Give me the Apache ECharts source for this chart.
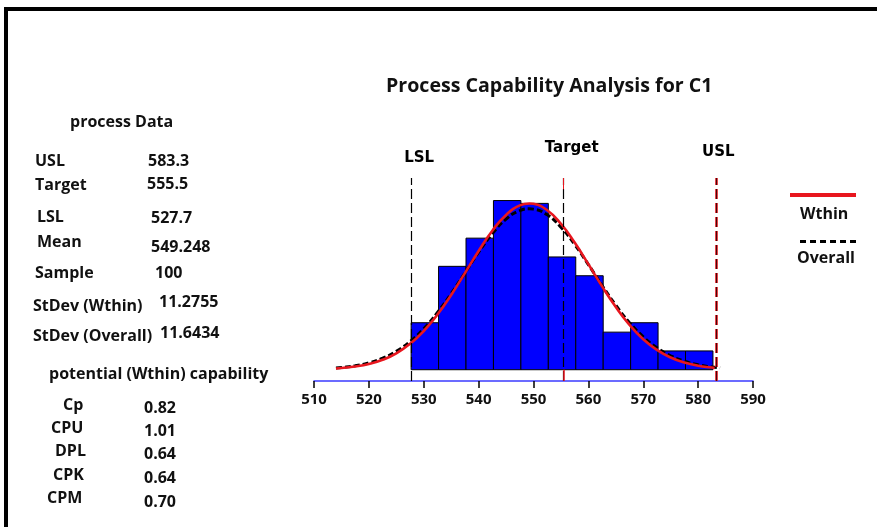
<!DOCTYPE html>
<html>
<head>
<meta charset="utf-8">
<script src="https://cdn.jsdelivr.net/npm/echarts@6/dist/echarts.min.js"></script>
<style>
  html, body { margin: 0; padding: 0; background: #fff; }
  #chart { width: 877px; height: 527px; }
</style>
</head>
<body>
<div id="chart"></div>
<script>
  // histogram bins (C1 values, bin width 5)
  const binStarts = [527.7, 532.7, 537.7, 542.7, 547.7, 552.7, 557.7, 562.7, 567.7, 572.7, 577.7];
  const binEnds = [532.7, 537.7, 542.7, 547.7, 552.7, 557.7, 562.7, 567.7, 572.7, 577.7, 582.7];
  const binCounts = [5, 11, 14, 18, 17.7, 12, 10, 4, 5, 2, 2];

  // fitted curves
  const withinX = [514, 515, 517.5, 520, 522.5, 525, 527.7, 530, 532.5, 535, 537.5, 540, 542.5, 545, 547.5, 549.25,
    550, 552.5, 555, 557.5, 560, 562.5, 565, 567.5, 570, 572.5, 575, 577.5, 580, 582.5, 583];
  const withinY = [0.13, 0.18, 0.34, 0.61, 1.06, 1.75, 2.85, 4.12, 5.87, 7.96, 10.28, 12.64, 14.79, 16.47, 17.48, 17.69,
    17.65, 16.97, 15.53, 13.53, 11.23, 8.87, 6.67, 4.77, 3.25, 2.11, 1.30, 0.77, 0.43, 0.23, 0.20];
  const overallX = [514, 515, 517.5, 520, 522.5, 525, 527.7, 530, 532.5, 535, 537.5, 540, 542.5, 545, 547.5, 549.25,
    550, 552.5, 555, 557.5, 560, 562.5, 565, 567.5, 570, 572.5, 575, 577.5, 580, 582.5, 584];
  const overallY = [0.18, 0.23, 0.42, 0.73, 1.22, 1.96, 3.09, 4.37, 6.09, 8.10, 10.30, 12.50, 14.48, 16.03, 16.94, 17.13,
    17.09, 16.48, 15.16, 13.33, 11.19, 8.96, 6.86, 5.01, 3.50, 2.33, 1.48, 0.90, 0.52, 0.29, 0.20];

  // spec limits
  const limitNames = ['LSL', 'Target', 'USL'];
  const limitValues = [527.7, 555.5, 583.3];

  // side panel text
  const processLabels = ['USL', 'Target', 'LSL', 'Mean', 'Sample', 'StDev (Wthin)', 'StDev (Overall)'];
  const processValues = ['583.3', '555.5', '527.7', '549.248', '100', '11.2755', '11.6434'];
  const capLabels = ['Cp', 'CPU', 'DPL', 'CPK', 'CPM'];
  const capValues = ['0.82', '1.01', '0.64', '0.64', '0.70'];

  const font = '"Open Sans", Lato, sans-serif';
  const chart = echarts.init(document.getElementById('chart'));

  // layout of the side panel (irregular, as in the original)
  const procLabelPos = [[35, 161], [35, 185], [37, 217], [37, 242], [35, 273], [33, 306], [33, 336]];
  const procValuePos = [[148, 161], [147, 184], [151, 218], [151, 247], [155, 273], [159, 302], [160, 333]];
  const capLabelPos = [[63, 405], [51, 428], [55, 451], [53, 475], [47, 498]];
  const capValuePos = [[144, 408], [144, 431], [144, 454], [144, 478], [144, 502]];

  function txt(s, x, y, size) {
    return {
      type: 'text', x: x, y: y, silent: true,
      style: { text: s, fill: '#111', font: 'bold ' + (size || 16) + 'px ' + font, verticalAlign: 'middle', align: 'left' }
    };
  }

  const graphics = [
    // frame
    { type: 'rect', shape: { x: 5, y: 7, width: 872, height: 4 }, style: { fill: '#000' } },
    { type: 'rect', shape: { x: 4, y: 7, width: 4, height: 520 }, style: { fill: '#000' } },
    txt('process Data', 70, 122)
  ];
  processLabels.forEach((s, i) => {
    graphics.push(txt(s, procLabelPos[i][0], procLabelPos[i][1]));
    graphics.push(txt(processValues[i], procValuePos[i][0], procValuePos[i][1]));
  });
  graphics.push(txt('potential (Wthin) capability', 49, 374));
  capLabels.forEach((s, i) => {
    graphics.push(txt(s, capLabelPos[i][0], capLabelPos[i][1]));
    graphics.push(txt(capValues[i], capValuePos[i][0], capValuePos[i][1]));
  });
  // legend
  graphics.push({ type: 'line', shape: { x1: 790, y1: 195, x2: 856, y2: 195 }, style: { stroke: '#e8161e', lineWidth: 4 } });
  graphics.push(txt('Wthin', 800, 214));
  graphics.push({ type: 'line', shape: { x1: 800, y1: 241.5, x2: 857, y2: 241.5 }, style: { stroke: '#000', lineWidth: 3, lineDash: [6, 4] } });
  graphics.push(txt('Overall', 797, 258));

  const labelDist = [12, 22, 18];
  const labelStyle = { color: '#000', fontFamily: '"DejaVu Sans", sans-serif', fontWeight: 'bold', fontSize: 15 };
  const limitLines = limitNames.map((n, i) => ({
    name: n,
    xAxis: limitValues[i],
    lineStyle: n === 'USL'
      ? { color: '#e0141c', type: [10, 4], width: 2.6 }
      : { color: '#000', type: [10, 4], width: 1.2 },
    label: Object.assign({
      show: true, position: 'end', formatter: n, distance: labelDist[i],
      padding: [0, 0, 0, n === 'USL' ? 4 : 16]
    }, labelStyle)
  }));
  // dark core of the USL line
  limitLines.push({ xAxis: limitValues[2], lineStyle: { color: '#000', type: [10, 4], width: 0.7 }, label: { show: false } });
  // red parts of the target line
  limitLines.push([
    { coord: [limitValues[1], -1.2], lineStyle: { color: '#e8161e', type: 'solid', width: 1.5 }, label: { show: false } },
    { coord: [limitValues[1], 0] }
  ]);
  limitLines.push([
    { coord: [limitValues[1], 19.2], lineStyle: { color: '#e8161e', type: 'solid', width: 1 }, label: { show: false } },
    { coord: [limitValues[1], 20.4] }
  ]);

  chart.setOption({
    animation: false,
    backgroundColor: '#fff',
    title: {
      text: 'Process Capability Analysis for C1',
      left: 381, top: 71,
      textStyle: { fontFamily: font, fontWeight: 'bold', fontSize: 19.6, color: '#111' }
    },
    grid: { left: 314, right: 124, top: 178, bottom: 146 },
    xAxis: {
      type: 'value', min: 510, max: 590, interval: 10,
      axisLine: { onZero: false, lineStyle: { color: '#3b3bff', width: 1.5 } },
      axisTick: { length: 7, lineStyle: { color: '#000', width: 1.5 } },
      axisLabel: { color: '#111', fontFamily: font, fontWeight: 'bold', fontSize: 15, margin: 11 },
      splitLine: { show: false }
    },
    yAxis: { type: 'value', min: -1.2, max: 20.4, show: false },
    series: [
      {
        type: 'line', data: [],
        markLine: { silent: true, symbol: ['none', 'none'], animation: false, data: limitLines },
        z: 1
      },
      {
        type: 'custom',
        data: binStarts.map((s, i) => [s, binEnds[i], binCounts[i]]),
        encode: { x: [0, 1], y: 2 },
        renderItem: function (params, api) {
          const p0 = api.coord([api.value(0), api.value(2)]);
          const p1 = api.coord([api.value(1), 0]);
          return {
            type: 'rect',
            shape: { x: p0[0], y: p0[1], width: p1[0] - p0[0], height: p1[1] - p0[1] },
            style: { fill: '#0000ff', stroke: '#000', lineWidth: 1 }
          };
        },
        z: 2
      },
      {
        name: 'Overall', type: 'line', smooth: true, showSymbol: false,
        data: overallX.map((x, i) => [x, overallY[i]]),
        lineStyle: { color: '#000', width: 3, type: [6, 3] },
        z: 3
      },
      {
        name: 'Wthin', type: 'line', smooth: true, showSymbol: false,
        data: withinX.map((x, i) => [x, withinY[i]]),
        lineStyle: { color: '#e8161e', width: 2.6 },
        z: 4
      }
    ],
    graphic: graphics
  });
</script>
</body>
</html>
